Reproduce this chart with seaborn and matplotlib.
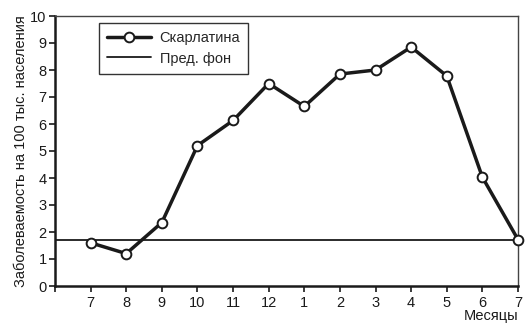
import matplotlib
matplotlib.use("Agg")
import matplotlib.pyplot as plt
import seaborn as sns
import pandas as pd

months = ["7", "8", "9", "10", "11", "12", "1", "2", "3", "4", "5", "6", "7"]
scarlatina = [1.6, 1.2, 2.35, 5.2, 6.13, 7.5, 6.65, 7.85, 8.0, 8.85, 7.78, 4.03, 1.72]
background = 1.72
series_name = "Скарлатина"
bg_name = "Пред. фон"

sns.set_theme(style="ticks")
plt.rcParams['font.family'] = ['Liberation Sans', 'DejaVu Sans']

positions = list(range(1, len(months) + 1))
df = pd.DataFrame({"pos": positions, "val": scarlatina})

fig = plt.figure(figsize=(5.31, 3.23), dpi=100)
ax = fig.add_axes([55/531, 1 - 286/323, (518-55)/531, (286-16)/323])

ax.axhline(background, color="#1a1a1a", lw=1.3, label=bg_name, zorder=2)
sns.lineplot(data=df, x="pos", y="val", ax=ax, color="#1a1a1a", lw=2.5,
             marker="o", markersize=7, markerfacecolor="white",
             markeredgecolor="#1a1a1a", markeredgewidth=1.4,
             label=series_name, zorder=3, clip_on=False)

ax.set_xlim(0, 13)
ax.set_ylim(0, 10)
ax.set_xticks([0] + positions)
ax.set_xticklabels([""] + months)
ax.set_yticks(range(0, 11))
ax.tick_params(axis="both", labelsize=10.5, color="#1a1a1a", length=4, width=1.2,
               labelcolor="#1a1a1a")
ax.tick_params(axis="x", pad=3)
ax.tick_params(axis="y", pad=2)

for s in ["left", "bottom"]:
    ax.spines[s].set_linewidth(1.8)
    ax.spines[s].set_color("#1a1a1a")
for s in ["top", "right"]:
    ax.spines[s].set_linewidth(1.0)
    ax.spines[s].set_color("#444444")
    ax.spines[s].set_visible(True)

ax.set_xlabel("")
ax.set_ylabel("Заболеваемость на 100 тыс. населения", fontsize=10.5, color="#1a1a1a", labelpad=2)
fig.text(518/531, 1 - 316/323, "Месяцы", ha="right", va="center", fontsize=10.5, color="#1a1a1a")

handles, labels = ax.get_legend_handles_labels()
order = [labels.index(series_name), labels.index(bg_name)]
leg = ax.legend([handles[i] for i in order], [labels[i] for i in order],
                loc="upper left", bbox_to_anchor=((99-55)/463, (286-23)/270), fontsize=10.5,
                frameon=True, fancybox=False, edgecolor="#333333", framealpha=1,
                handlelength=3.0, handletextpad=0.6, borderpad=0.55, labelspacing=0.45,
                borderaxespad=0)
leg.get_frame().set_linewidth(1.0)

fig.savefig("out.png", dpi=100)
